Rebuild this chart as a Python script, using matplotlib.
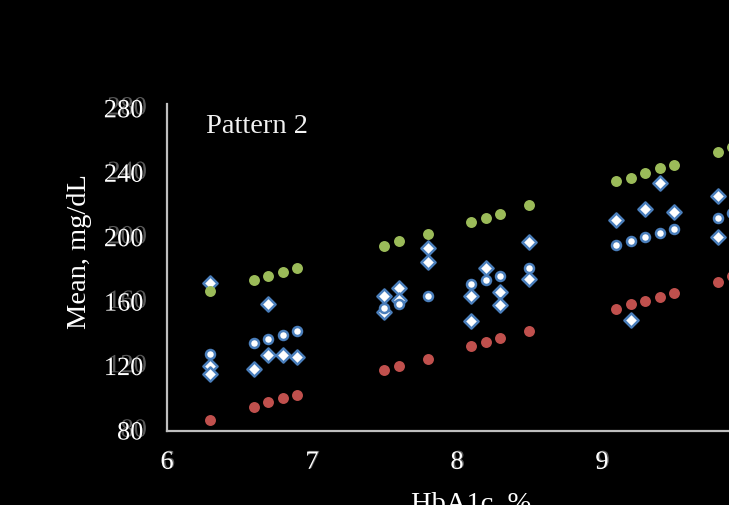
import matplotlib
matplotlib.use("Agg")
import matplotlib.pyplot as plt
import matplotlib.patheffects as pe

# values (HbA1c %, mean glucose mg/dL)
hba1c = [6.3, 6.6, 6.7, 6.8, 6.9, 7.5, 7.6, 7.8, 8.1, 8.2, 8.3, 8.5,
         9.1, 9.2, 9.3, 9.4, 9.5, 9.8, 9.9]
upper = [167, 174, 176.5, 179, 181, 195, 198, 202, 210, 212, 215, 220,
         235, 237, 240, 243, 245, 253, 256]
lower = [87, 95, 98, 100.5, 102.5, 118, 120.5, 125, 133, 135, 137.5, 142,
         156, 159, 161, 163, 165.5, 172.5, 176]
mean_line = [127.5, 134.5, 137, 139.5, 142, 156.5, 159, 164, 171.5, 174, 176, 181,
             195.5, 198, 200.5, 203, 205.5, 212.5, 215.5]

obs_x = [6.3, 6.3, 6.3, 6.6, 6.7, 6.7, 6.8, 6.9, 7.5, 7.5, 7.6, 7.6, 7.8, 7.8,
         8.1, 8.1, 8.2, 8.3, 8.3, 8.5, 8.5, 9.1, 9.2, 9.3, 9.4, 9.5, 9.8, 9.8]
obs_y = [172, 120.5, 115.5, 118.5, 159, 127, 127, 126, 164, 154, 169, 161.5, 193.5, 185,
         163.5, 148.5, 181.5, 166, 158.5, 197.5, 174.5, 211, 149, 218, 234, 216, 226, 200.5]

yticks = [80, 120, 160, 200, 240, 280]
xticks = [6, 7, 8, 9]

plt.rcParams['font.family'] = ['Liberation Serif', 'DejaVu Serif']

W, H = 729, 506
fig = plt.figure(figsize=(W / 100, H / 100), dpi=100, facecolor='black')
# plot area runs past the right edge of the picture (cropped chart)
left, bottom, top = 167, 432, 105
ax = fig.add_axes([left / W, (H - bottom) / H, 725 / W, (bottom - top) / H])
ax.set_facecolor('black')

blue = '#4a7ebb'
ax.scatter(obs_x, obs_y, marker='D', s=52, facecolor='white', edgecolor=blue,
           linewidth=1.8, zorder=3)
ax.scatter(hba1c, mean_line, marker='o', s=42, facecolor='white', edgecolor=blue,
           linewidth=1.8, zorder=4)
ax.scatter(hba1c, upper, marker='o', s=62, color='#9bbb59', linewidth=0, zorder=5)
ax.scatter(hba1c, lower, marker='o', s=62, color='#c0504d', linewidth=0, zorder=5)

ax.set_xlim(6, 11)
ax.set_ylim(80, 283)
ax.set_xticks(xticks)
ax.set_yticks(yticks)
ax.set_xticklabels([str(t) for t in xticks])
ax.set_yticklabels([str(t) for t in yticks])
ax.tick_params(axis='x', length=0, pad=15, labelsize=19, colors='white')
ax.tick_params(axis='y', length=0, pad=17, labelsize=19, colors='white')

for s in ['top', 'right']:
    ax.spines[s].set_visible(False)
for s in ['left', 'bottom']:
    ax.spines[s].set_color('#bfbfbf')
    ax.spines[s].set_linewidth(1.6)

for tl in ax.get_yticklabels():
    tl.set_path_effects([pe.withSimplePatchShadow(offset=(2.5, 2), shadow_rgbFace='#5a5a5a', alpha=1.0)])
for tl in ax.get_xticklabels():
    tl.set_path_effects([pe.withSimplePatchShadow(offset=(1, 0.5), shadow_rgbFace='#5a5a5a', alpha=1.0)])

fig.text(206 / W, 1 - 133 / H, 'Pattern 2', color='#f2f2f2', fontsize=20.5,
         ha='left', va='baseline')
fig.text(80 / W, 1 - 251.5 / H, 'Mean, mg/dL', color='white', fontsize=20.5,
         rotation=90, ha='center', va='center')
# axis title sits partly below the bottom edge, as in the reference crop
fig.text(471.5 / W, 1 - 492 / H, 'HbA1c, %', color='white', fontsize=20.5,
         ha='center', va='top')

fig.savefig('out.png', dpi=100, facecolor='black')
